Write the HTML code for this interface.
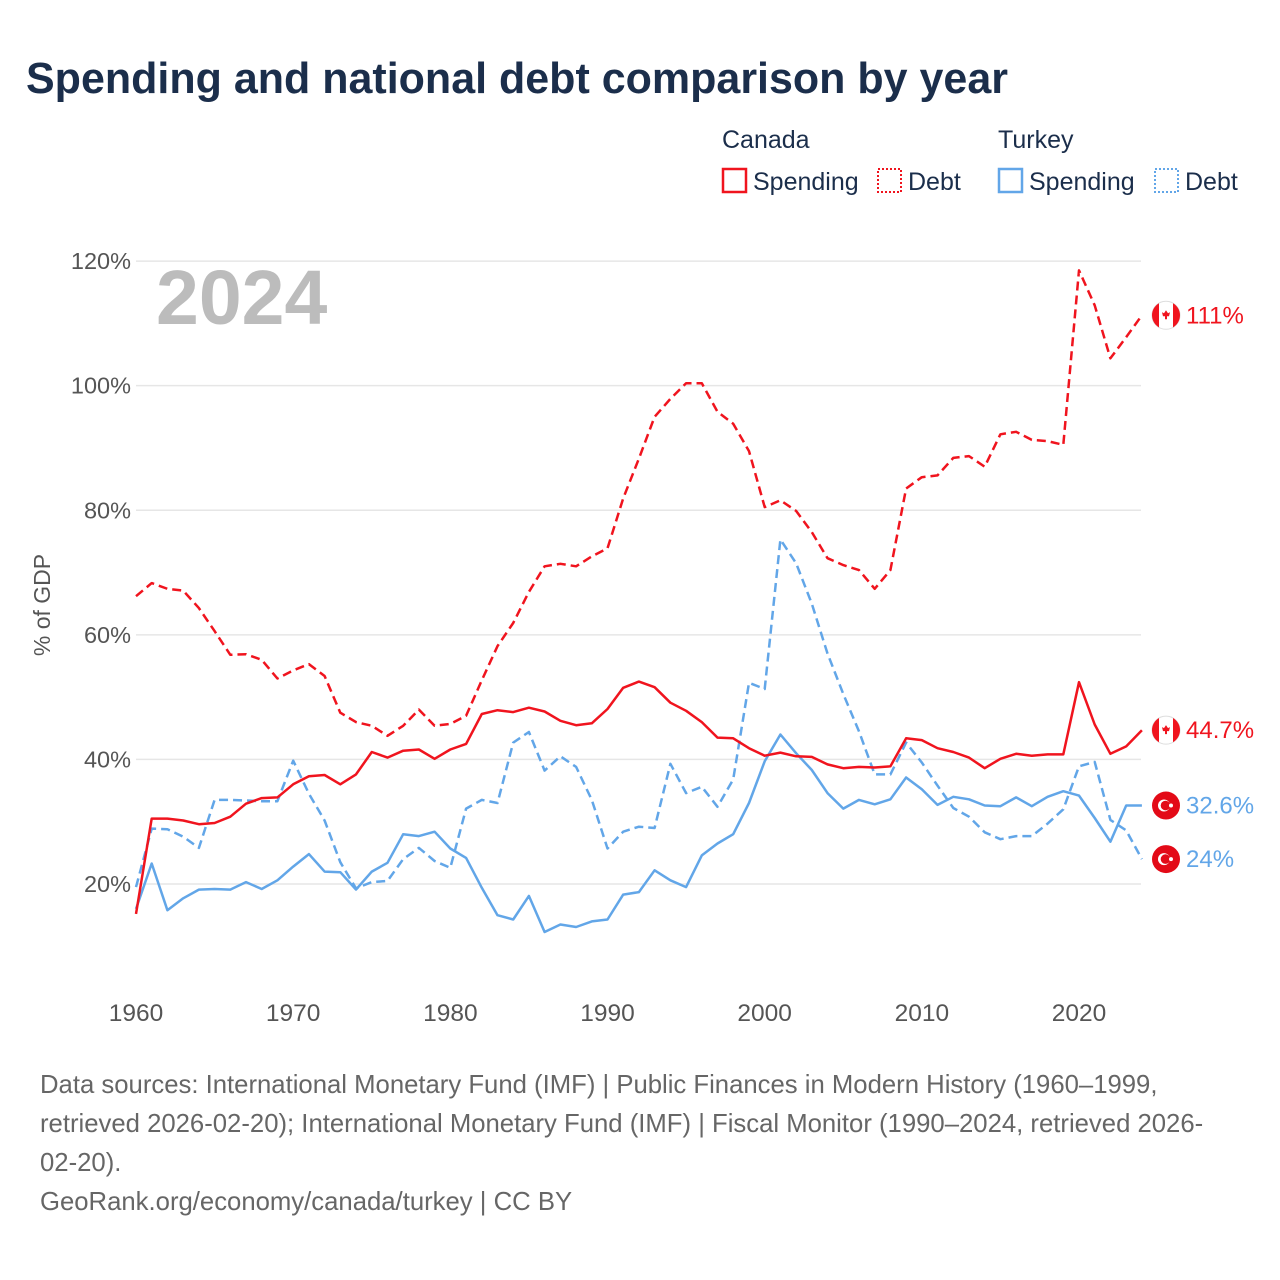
<!DOCTYPE html>
<html><head><meta charset="utf-8">
<style>
body{margin:0;background:#fff;font-family:"Liberation Sans",sans-serif;}
#wrap{position:relative;width:1280px;height:1280px;overflow:hidden;}
svg{position:absolute;left:0;top:0;}
</style></head>
<body><div id="wrap">
<svg id="chart" width="1280" height="1280"></svg>
</div>
<script>
const years = [];
for (let y = 1960; y <= 2024; y++) years.push(y);
const canadaDebt = [66.2,68.3,67.4,67.1,64.3,60.6,56.8,56.9,56,53,54.3,55.3,53.4,47.5,46,45.4,43.8,45.4,48,45.4,45.7,47,52.7,58.2,61.9,66.9,71,71.4,71,72.6,73.9,81.9,88.3,95,97.9,100.4,100.4,95.8,93.9,89.5,80.5,81.6,79.9,76.5,72.3,71.2,70.4,67.4,70.4,83.5,85.3,85.6,88.4,88.7,87,92.2,92.6,91.3,91.1,90.5,118.5,112.9,104.4,107.8,111.3];
const canadaSpend = [15.2,30.5,30.5,30.2,29.6,29.8,30.8,32.9,33.8,33.9,36,37.3,37.5,36,37.6,41.2,40.3,41.4,41.6,40.1,41.6,42.5,47.3,47.9,47.6,48.3,47.7,46.2,45.5,45.8,48.1,51.5,52.5,51.6,49.1,47.8,46,43.5,43.4,41.8,40.6,41.1,40.5,40.4,39.2,38.6,38.8,38.7,38.9,43.4,43.1,41.8,41.2,40.3,38.6,40.1,40.9,40.6,40.8,40.8,52.4,45.6,40.9,42.1,44.7];
const turkeySpend = [16,23.3,15.8,17.7,19.1,19.2,19.1,20.3,19.2,20.6,22.8,24.8,22,21.9,19.1,22,23.4,28,27.7,28.4,25.7,24.2,19.4,15,14.3,18.1,12.3,13.5,13.1,14,14.3,18.3,18.7,22.2,20.6,19.5,24.6,26.5,28,33,39.7,44,41,38.3,34.6,32.1,33.5,32.8,33.6,37.1,35.2,32.7,34,33.6,32.6,32.5,33.9,32.5,34,34.9,34.2,30.6,26.8,32.6,32.6];
const turkeyDebt = [19.5,28.9,28.8,27.6,25.8,33.5,33.5,33.4,33.3,33.3,39.8,34.5,30.2,23.5,19.3,20.3,20.5,24,25.8,23.7,22.6,32.1,33.5,33,42.7,44.4,38.2,40.5,38.8,33.5,25.7,28.4,29.2,29,39.3,34.6,35.6,32.4,36.8,52.3,51.3,75.3,71.5,65,57,50.5,44.5,37.6,37.6,42.7,39.5,35.8,32.2,30.8,28.3,27.2,27.7,27.7,29.7,32,38.9,39.6,30.3,28.6,24];
const yTicks = [20,40,60,80,100,120];
const xTicks = [1960,1970,1980,1990,2000,2010,2020];
const endLabels = ["111%","44.7%","32.6%","24%"];

const RED = "#f0141e", BLUE = "#62a6e8";
const X = yr => 136 + (yr - 1960) * (1079 - 136) / 60;
const Y = v => 1008.6 - v * 6.2292;
const NS = "http://www.w3.org/2000/svg";
const svg = document.getElementById("chart");
function mk(tag, attrs, parent) {
  const e = document.createElementNS(NS, tag);
  for (const k in attrs) e.setAttribute(k, attrs[k]);
  (parent || svg).appendChild(e);
  return e;
}
function txt(s, attrs) { const t = mk("text", attrs); t.textContent = s; return t; }

let t = txt("Spending and national debt comparison by year", {x:26,y:93,"font-size":44,"font-weight":"bold",fill:"#1b2e4b",textLength:982,lengthAdjust:"spacingAndGlyphs"});



const lg = [["Canada",722,139],["Turkey",998,139]];
lg.forEach(l => {
  const e = txt(l[0], {x:l[1], y:l[2]+9, "font-size":25, fill:"#1b2e4b"});
  
  
});
const items = [[722,RED,false,"Spending"],[877,RED,true,"Debt"],[998,BLUE,false,"Spending"],[1154,BLUE,true,"Debt"]];
items.forEach(it => {
  const g = mk("g", {});
  
  
  mk("rect", {x:it[0]+1, y:169, width:23, height:23, fill:"none", stroke:it[1], "stroke-width":it[2]?2:2.5, "stroke-dasharray":it[2]?"2,2":"none"}, g);
  const tt = document.createElementNS(NS, "text");
  tt.setAttribute("x", it[0]+31); tt.setAttribute("y", 190); tt.setAttribute("font-size", 25); tt.setAttribute("fill", "#1b2e4b");
  tt.textContent = it[3]; g.appendChild(tt);
});

yTicks.forEach(v => {
  const l = mk("line", {x1:136, x2:1141, y1:Y(v), y2:Y(v), stroke:"#e6e6e6", "stroke-width":1.5});
  
  
  const e = txt(v + "%", {x:131, y:Y(v)+8, "font-size":23.5, fill:"#555", "text-anchor":"end"});
  
  
});
xTicks.forEach(yr => {
  const e = txt(String(yr), {x:X(yr), y:1021, "font-size":24.5, fill:"#555", "text-anchor":"middle"});
  
  
});
t = txt("% of GDP", {x:0, y:0, "font-size":23, fill:"#555", "text-anchor":"middle", transform:"translate(50,605) rotate(-90)"});



t = txt("2024", {x:156, y:324, "font-size":77, "font-weight":"bold", fill:"#bcbcbc"});



function line(data, color, dashed, name) {
  const d = data.map((v, i) => (i ? "L" : "M") + X(years[i]).toFixed(1) + "," + Y(v).toFixed(1)).join(" ");
  const p = mk("path", {d:d, fill:"none", stroke:color, "stroke-width":2.5, "stroke-linejoin":"round", "stroke-dasharray":dashed?"9,5":"none"});
  
  
}
line(turkeyDebt, BLUE, true, "turkey-debt-line");
line(turkeySpend, BLUE, false, "turkey-spending-line");
line(canadaDebt, RED, true, "canada-debt-line");
line(canadaSpend, RED, false, "canada-spending-line");

const ends = [[canadaDebt,"ca",RED],[canadaSpend,"ca",RED],[turkeySpend,"tr",BLUE],[turkeyDebt,"tr",BLUE]];
ends.forEach((e, i) => {
  const v = e[0][e[0].length-1];
  const cy = Y(v), cx = 1166;
  const g = mk("g", {});
  
  
  if (e[1] === "ca") {
    mk("circle", {cx:cx, cy:cy, r:14, fill:"#fff", stroke:"#ddd", "stroke-width":1}, g);
    mk("path", {d:`M${cx-14},${cy} A14,14 0 0 1 ${cx-7},${cy-12.1} L${cx-7},${cy+12.1} A14,14 0 0 1 ${cx-14},${cy} Z`, fill:RED}, g);
    mk("path", {d:`M${cx+14},${cy} A14,14 0 0 0 ${cx+7},${cy-12.1} L${cx+7},${cy+12.1} A14,14 0 0 0 ${cx+14},${cy} Z`, fill:RED}, g);
    mk("path", {d:`M${cx},${cy-5} L${cx+2},${cy-2} L${cx+4},${cy-3} L${cx+3},${cy+1} L${cx+1},${cy+1} L${cx+1},${cy+4} L${cx-1},${cy+4} L${cx-1},${cy+1} L${cx-3},${cy+1} L${cx-4},${cy-3} L${cx-2},${cy-2} Z`, fill:RED}, g);
  } else {
    mk("circle", {cx:cx, cy:cy, r:14, fill:"#e30a17"}, g);
    mk("circle", {cx:cx-2, cy:cy, r:6, fill:"#fff"}, g);
    mk("circle", {cx:cx-0.5, cy:cy, r:4.8, fill:"#e30a17"}, g);
    mk("circle", {cx:cx+5, cy:cy, r:2, fill:"#fff"}, g);
  }
  const tl = txt(endLabels[i], {x:1186, y:cy+8, "font-size":24, fill:e[2]});
  
  
});

const foot = ["Data sources: International Monetary Fund (IMF) | Public Finances in Modern History (1960–1999,",
 "retrieved 2026-02-20); International Monetary Fund (IMF) | Fiscal Monitor (1990–2024, retrieved 2026-",
 "02-20).","GeoRank.org/economy/canada/turkey | CC BY"];
foot.forEach((s, i) => {
  const e = txt(s, {x:40, y:1093 + i*39, "font-size":25.7, fill:"#666"});
  
  
});
</script>
</body></html>
